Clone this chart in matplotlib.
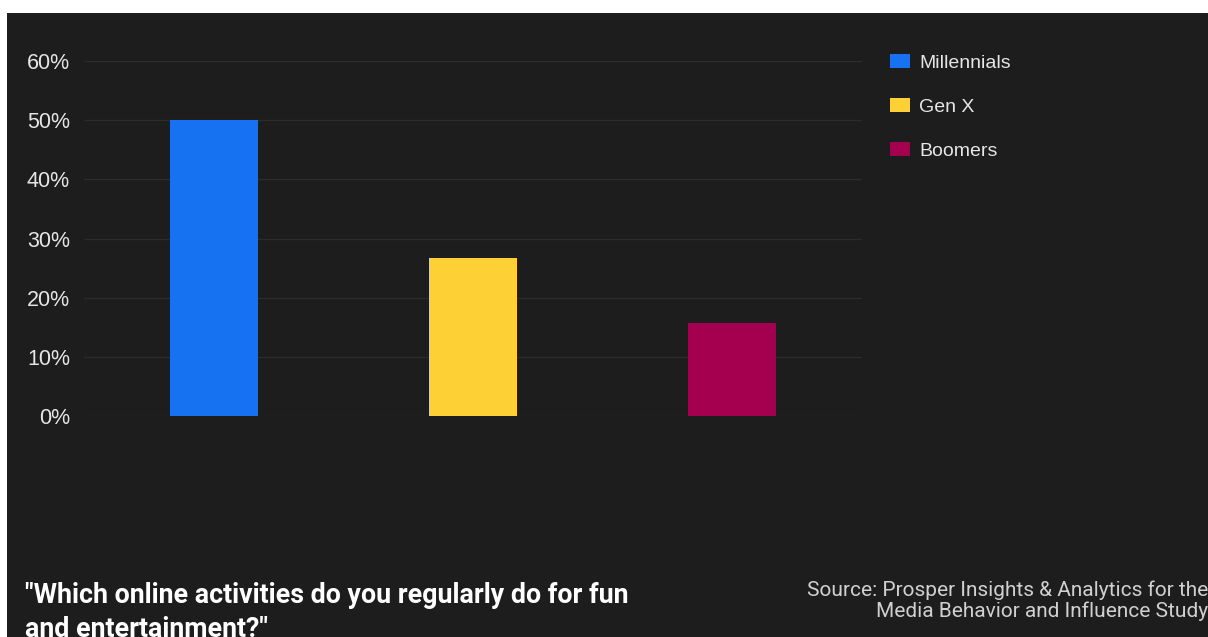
import matplotlib
matplotlib.use("Agg")
import matplotlib.pyplot as plt
from matplotlib.patches import Rectangle

# Share of respondents by generation
groups = ["Millennials", "Gen X", "Boomers"]
shares = [50, 26.7, 15.7]
colors = ["#1672f0", "#fdd035", "#a5004f"]
yticks = [0, 10, 20, 30, 40, 50, 60]

bg = "#1d1d1d"
grid = "#2c2c2c"
text = "#e6e6e6"

fig = plt.figure(figsize=(12.08, 6.37), dpi=100, facecolor="white")
# dark card, leaving a thin white margin at top and left
fig.patches.append(Rectangle((7 / 1208, 0), 1, 1 - 13 / 637,
                             transform=fig.transFigure, facecolor=bg,
                             edgecolor="none", zorder=-10))

ax = fig.add_axes([0.0695, 0.3469, 0.644, 0.5573])
ax.set_facecolor(bg)
x = range(len(groups))
bars = ax.bar(x, shares, width=0.34, color=colors, label=groups, zorder=3)

ax.set_xlim(-0.5, len(groups) - 0.5)
ax.set_ylim(0, 60)
ax.set_yticks(yticks)
ax.set_yticklabels([f"{v}%" for v in yticks], fontsize=15.5, color=text,
                   family="Liberation Sans")
ax.set_xticks([])
ax.tick_params(axis="y", length=0, pad=10)
ax.grid(axis="y", color=grid, linewidth=1, zorder=0)
for s in ax.spines.values():
    s.set_visible(False)

leg = fig.legend(handles=bars.patches, labels=groups, loc="upper left",
                 bbox_to_anchor=(0.7225, 0.942), frameon=False,
                 prop={"family": "Liberation Sans", "size": 14},
                 labelcolor=text, handlelength=1.0, handleheight=0.72,
                 handletextpad=0.5, labelspacing=1.35)

fig.text(25 / 1208, 1 - 582 / 637,
         "\"Which online activities do you regularly do for fun\nand entertainment?\"",
         fontsize=19.3, fontweight="bold", family="Roboto", color="white",
         va="top", ha="left", linespacing=1.35)
fig.text(1208 / 1208, 1 - 580 / 637,
         "Source: Prosper Insights & Analytics for the\nMedia Behavior and Influence Study",
         fontsize=15, family="Roboto", color="#d0d0d0", ha="right",
         va="top", multialignment="right", linespacing=1.15)

fig.savefig("out.png", dpi=100, facecolor=fig.get_facecolor())
